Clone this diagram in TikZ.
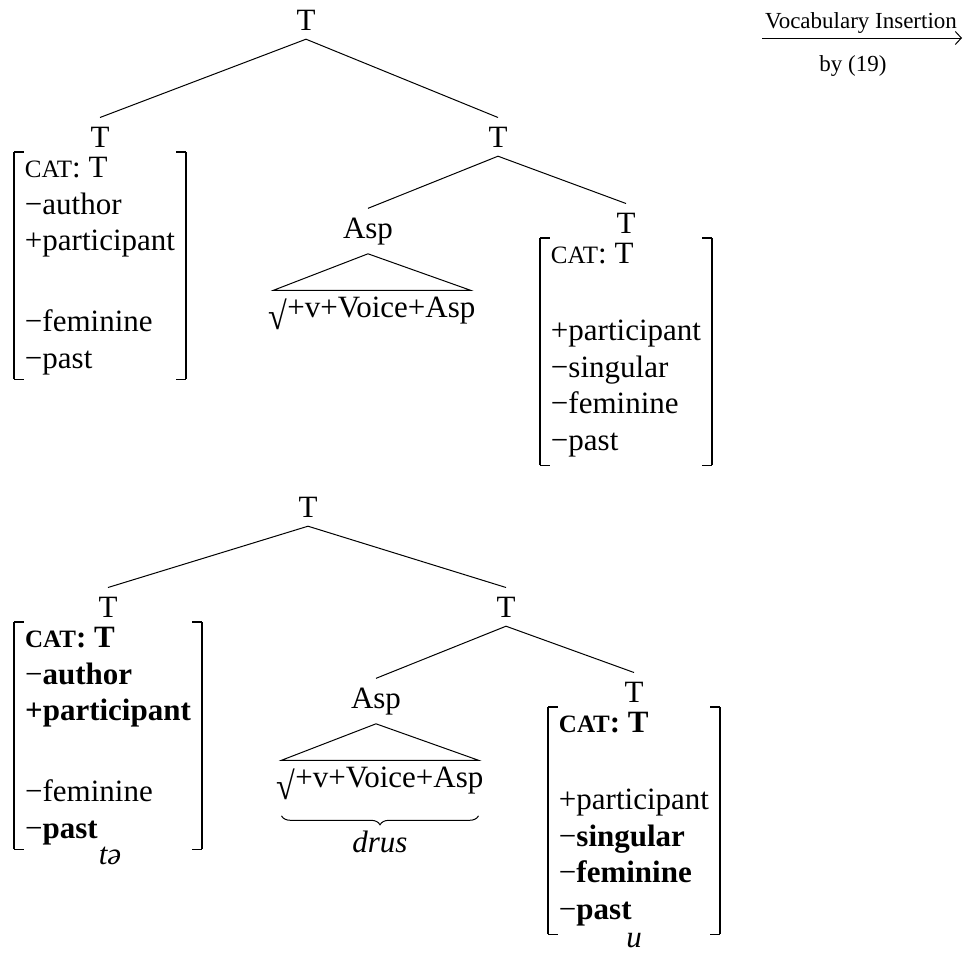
\documentclass[tikz,border=0pt]{standalone}
\usepackage{fontspec}
\setmainfont{Liberation Serif}
\usetikzlibrary{decorations.pathreplacing,arrows.meta}
\newcommand\smcap[1]{{\fontsize{25}{25}\selectfont #1}}
\newcommand\bigfont{\fontsize{31}{36.5}\selectfont}
\newcommand\smallfont{\fontsize{23}{27}\selectfont}
\newcommand\featrows[1]{\begin{tabular}[t]{@{}l@{}}#1\end{tabular}}
\newcommand\rootsign{\smash{\raisebox{-12pt}{\scalebox{1.1}[1.25]{√}}}}

\begin{document}
\begin{tikzpicture}[x=1pt,y=-1pt,
  lbl/.style={anchor=base, inner xsep=0pt, inner ysep=9pt, font=\bigfont},
  fmat/.style={anchor=north, inner xsep=11pt, inner ysep=0pt, font=\bigfont},
  roots/.style={anchor=base, inner xsep=-5pt, inner ysep=6pt, font=\bigfont},
  expo/.style={anchor=base, inner sep=0pt, font=\bigfont\itshape},
  edge/.style={line width=1pt},
  brk/.style={line width=1.6pt},
  bracketize/.style={append after command={
    \pgfextra{\let\bnode\tikzlastnode}
    (\bnode.north west) ++(10,0) edge[brk,-] (\bnode.north west)
    (\bnode.north west) edge[brk,-] (\bnode.south west)
    (\bnode.south west) edge[brk,-] ++(10,0)
    (\bnode.north east) ++(-10,0) edge[brk,-] (\bnode.north east)
    (\bnode.north east) edge[brk,-] (\bnode.south east)
    (\bnode.south east) edge[brk,-] ++(-10,0)}}]
\useasboundingbox (0,0) rectangle (964,953);

% ---------- arrow ----------
\coordinate (arrS) at (762,38);
\coordinate (arrE) at (962,38);
\draw[edge,-{Straight Barb[length=6pt,width=13pt]}] (arrS) -- (arrE);
\node[anchor=base, font=\smallfont] (voc) at (861,28) {Vocabulary Insertion};
\node[anchor=base, font=\smallfont] (by) at (853,71) {by (19)};

% ---------- first tree ----------
\node[lbl] (r1) at (306,30) {T};
\node[lbl] (l1) at (100,147) {T};
\node[fmat,bracketize] (l1m) at (100,152) {\featrows{\smcap{CAT}: T\\ −author\\ +participant\\ \\[8pt] −feminine\\ −past}};
\node[lbl] (m1) at (498,147) {T};
\node[lbl] (a1) at (368,238) {Asp};
\node[roots] (s1) at (372,317) {\rootsign+v+Voice+Asp};
\node[lbl] (t1) at (626,233) {T};
\node[fmat,bracketize] (t1m) at (626,238) {\featrows{\smcap{CAT}: T\\ \\[4pt] +participant\\ −singular\\ −feminine\\ −past\\[4pt]}};

\draw[edge] (r1.south) -- (l1.north);
\draw[edge] (r1.south) -- (m1.north);
\draw[edge] (m1.south) -- (a1.north);
\draw[edge] (m1.south) -- (t1.north);
\draw[edge] (a1.south) -- (s1.north west) -- (s1.north east) -- cycle;

% ---------- second tree ----------
\node[lbl] (r2) at (308,517) {T};
\node[lbl] (l2) at (108,617) {T};
\node[fmat,bracketize] (l2m) at (108,622) {\featrows{\textbf{\smcap{CAT}: T}\\ −\textbf{author}\\ \textbf{+participant}\\ \\[8pt] −feminine\\ −\textbf{past}}};
\node[expo] (l2e) at (110,864) {tə};
\node[lbl] (m2) at (506,617) {T};
\node[lbl] (a2) at (376,708) {Asp};
\node[roots] (s2) at (380,787) {\rootsign+v+Voice+Asp};
\node[expo] (s2e) at (380,852) {drus};
\node[lbl] (t2) at (634,702) {T};
\node[fmat,bracketize] (t2m) at (634,707) {\featrows{\textbf{\smcap{CAT}: T}\\ \\[4pt] +participant\\ −\textbf{singular}\\ −\textbf{feminine}\\ −\textbf{past}\\[4pt]}};
\node[expo] (t2e) at (634,947) {u};

\draw[edge] (r2.south) -- (l2.north);
\draw[edge] (r2.south) -- (m2.north);
\draw[edge] (m2.south) -- (a2.north);
\draw[edge] (m2.south) -- (t2.north);
\draw[edge] (a2.south) -- (s2.north west) -- (s2.north east) -- cycle;
\draw[edge, decorate, decoration={brace, mirror, amplitude=9pt}]
  ([yshift=-16pt]s2.south west) -- ([yshift=-16pt]s2.south east);
\end{tikzpicture}
\end{document}
